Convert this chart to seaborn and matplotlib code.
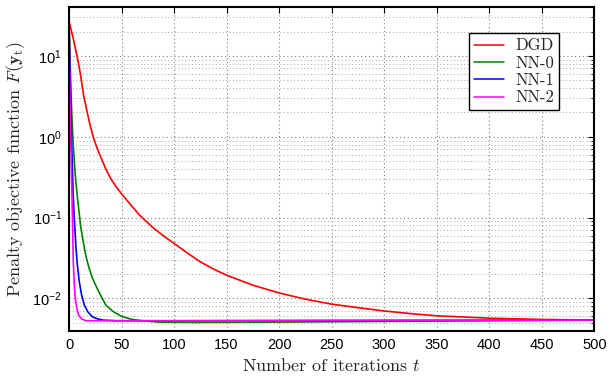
import numpy as np
import pandas as pd
import matplotlib
matplotlib.use("Agg")
import matplotlib.pyplot as plt
import seaborn as sns
from matplotlib.ticker import LogLocator, MultipleLocator, NullFormatter

# values (log scale on y)
dgd_t = [0, 4, 8, 11, 14, 17, 20, 23, 26, 30, 35, 40, 45, 50, 58, 67, 80, 91, 100, 112,
         125, 137, 150, 175, 200, 225, 250, 275, 300, 325, 350, 375, 400, 450, 500]
dgd_v = [27, 16.5, 9.5, 5.8, 3.2, 2.1, 1.4, 1.0, 0.77, 0.57, 0.40, 0.30, 0.24, 0.197,
         0.148, 0.108, 0.075, 0.058, 0.048, 0.037, 0.0284, 0.0233, 0.0194, 0.0146, 0.0117,
         0.0098, 0.0085, 0.0077, 0.0070, 0.0065, 0.0061, 0.0059, 0.0057, 0.0055, 0.0054]

nn0_t = [0, 1, 2, 3, 4, 6, 8, 11, 13, 16, 19, 22.5, 26, 30, 35, 42, 50, 60, 70, 85, 120,
         200, 300, 400, 500]
nn0_v = [27, 9, 3.2, 1.5, 0.8, 0.33, 0.18, 0.08, 0.055, 0.034, 0.024, 0.0176, 0.014, 0.011,
         0.0083, 0.0069, 0.006, 0.0055, 0.0053, 0.0051, 0.00505, 0.0051, 0.0052, 0.0053, 0.0054]

nn1_t = [0, 1, 2, 3, 4, 5, 6.7, 8, 9.8, 12, 14.6, 18, 22.5, 27, 32, 45, 100, 300, 500]
nn1_v = [27, 6, 1.5, 0.5, 0.19, 0.1, 0.041, 0.026, 0.016, 0.011, 0.0083, 0.0068, 0.0059,
         0.0056, 0.0054, 0.0053, 0.0053, 0.00535, 0.0054]

nn2_t = [0, 1, 2, 2.9, 3.5, 4.1, 5, 6, 7.5, 9.2, 12, 16, 100, 300, 500]
nn2_v = [27, 2.5, 0.55, 0.17, 0.07, 0.028, 0.015, 0.010, 0.0075, 0.0062, 0.0056, 0.0053,
         0.0053, 0.00535, 0.0054]

names = ["DGD", "NN-0", "NN-1", "NN-2"]
colors = {"DGD": "#ff0000", "NN-0": "#008000", "NN-1": "#0000ff", "NN-2": "#ff00ff"}

frames = []
for name, t, v in zip(names, [dgd_t, nn0_t, nn1_t, nn2_t], [dgd_v, nn0_v, nn1_v, nn2_v]):
    frames.append(pd.DataFrame({"t": t, "F": v, "method": name}))
df = pd.concat(frames, ignore_index=True)

sns.set_theme(style="white")
plt.rcParams["font.family"] = ["cmr10", "DejaVu Serif"]
plt.rcParams["mathtext.fontset"] = "cm"
plt.rcParams["axes.unicode_minus"] = True

fig = plt.figure(figsize=(6.15, 3.77), dpi=100)
ax = fig.add_axes([0.1122, 0.1230, 0.8541, 0.8576])

sns.lineplot(data=df, x="t", y="F", hue="method", hue_order=names, palette=colors,
             errorbar=None, linewidth=1.2, ax=ax, legend=False)

ax.set_yscale("log")
ax.set_xlim(0, 500)
ax.set_ylim(4e-3, 40)
ax.xaxis.set_major_locator(MultipleLocator(50))
ax.yaxis.set_major_locator(LogLocator(base=10))
ax.yaxis.set_minor_locator(LogLocator(base=10, subs=np.arange(2, 10)))
ax.yaxis.set_minor_formatter(NullFormatter())

ax.grid(True, which="major", color="0.5", linestyle=(0, (1, 2.5)), linewidth=0.8)
ax.grid(True, which="minor", axis="y", color="0.65", linestyle=(0, (1, 2.5)), linewidth=0.7)
ax.set_axisbelow(True)

for s in ax.spines.values():
    s.set_color("black")
    s.set_linewidth(1.5)

ax.tick_params(which="both", direction="in", top=True, right=True, colors="black")
ax.tick_params(which="major", length=4, width=0.8, labelsize=10.5, pad=5)
ax.tick_params(which="minor", length=2, width=0.6)
for lab in ax.get_xticklabels() + ax.get_yticklabels():
    lab.set_fontfamily(["Liberation Sans", "DejaVu Sans"])

ax.set_xlabel(r"Number of iterations $t$", fontsize=13, labelpad=4)
ax.set_ylabel(r"Penalty objective function $F(\mathbf{y}_{\mathrm{t}})$", fontsize=13, labelpad=4)

handles = [plt.Line2D([], [], color=colors[n], linewidth=1.1) for n in names]
leg = ax.legend(handles, names, loc="upper right", bbox_to_anchor=(0.9334, 0.92),
                fontsize=12, frameon=True, fancybox=False, handlelength=1.8,
                borderpad=0.3, labelspacing=0.12, handletextpad=0.7, borderaxespad=0)
leg.get_frame().set_edgecolor("black")
leg.get_frame().set_linewidth(1.0)
leg.get_frame().set_alpha(1)

fig.savefig("out.png", dpi=100)
